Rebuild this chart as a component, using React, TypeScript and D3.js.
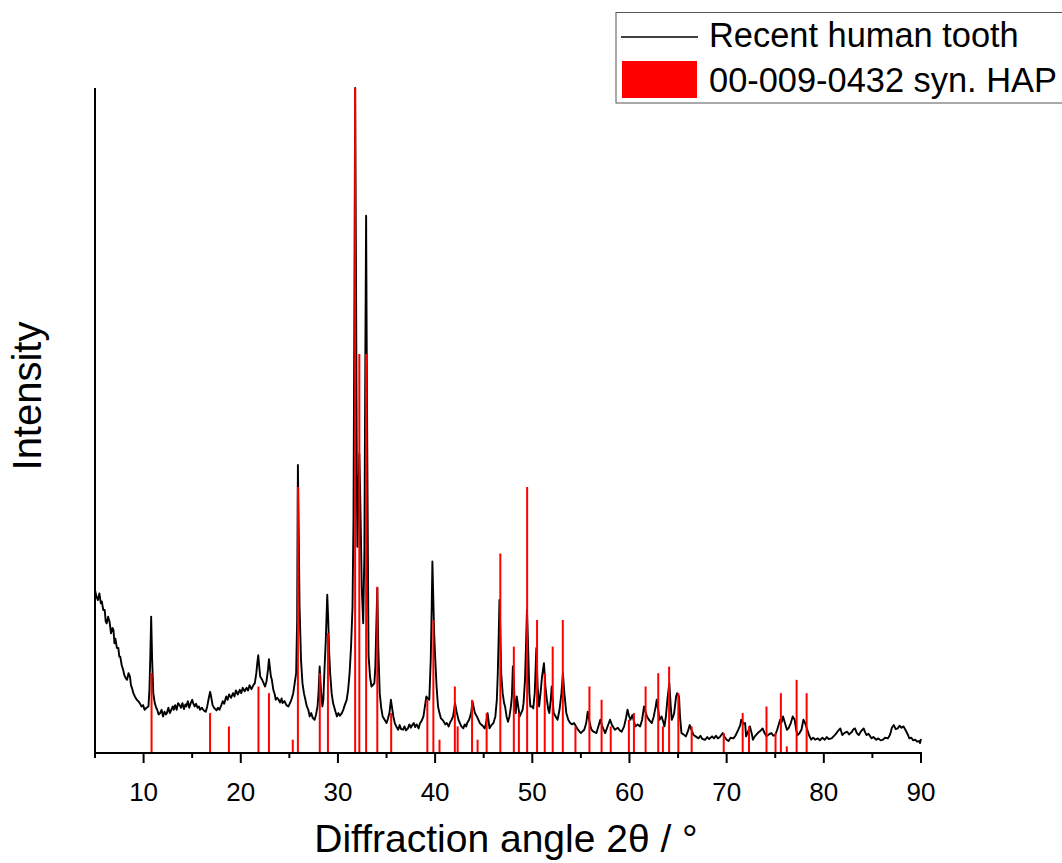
import React from "react";
import * as d3 from "d3";

// ---- Data ----
// Recent human tooth XRD pattern: 2θ (°) and relative intensity (0–100 of the plot height)
const toothAngle: number[] = [
  5.0, 5.15, 5.3, 5.45, 5.6, 5.7, 5.85, 6.0, 6.1, 6.2, 6.35, 6.5, 6.65, 6.8, 6.9, 7.0, 7.1, 7.25, 7.4, 7.5,
  7.6, 7.75, 7.9, 8.0, 8.15, 8.3, 8.45, 8.6, 8.7, 8.8, 8.95, 9.1, 9.3, 9.45, 9.6, 9.8, 9.95, 10.1, 10.3, 10.5,
  10.6, 10.7, 10.78, 10.88, 11.0, 11.15, 11.3, 11.4, 11.55, 11.7, 11.85, 12.0, 12.15, 12.3, 12.4, 12.55, 12.7, 12.85, 13.0, 13.1,
  13.25, 13.4, 13.55, 13.7, 13.85, 14.0, 14.15, 14.3, 14.4, 14.55, 14.7, 14.85, 15.0, 15.1, 15.25, 15.4, 15.55, 15.7, 15.8, 16.0,
  16.2, 16.4, 16.55, 16.7, 16.85, 16.95, 17.1, 17.3, 17.5, 17.65, 17.8, 18.0, 18.15, 18.3, 18.5, 18.65, 18.8, 19.0, 19.2, 19.35,
  19.5, 19.7, 19.9, 20.05, 20.2, 20.4, 20.6, 20.75, 20.9, 21.1, 21.3, 21.45, 21.6, 21.7, 21.8, 21.9, 22.0, 22.2, 22.35, 22.5,
  22.65, 22.8, 22.9, 23.0, 23.1, 23.2, 23.35, 23.5, 23.6, 23.75, 23.9, 24.05, 24.2, 24.3, 24.5, 24.7, 24.9, 25.1, 25.25, 25.4,
  25.55, 25.7, 25.8, 25.88, 25.95, 26.05, 26.2, 26.35, 26.5, 26.65, 26.8, 26.95, 27.1, 27.25, 27.4, 27.6, 27.75, 27.9, 28.0, 28.12,
  28.25, 28.4, 28.5, 28.6, 28.75, 28.9, 29.0, 29.1, 29.2, 29.35, 29.5, 29.6, 29.75, 29.9, 30.05, 30.2, 30.4, 30.55, 30.7, 30.9,
  31.05, 31.2, 31.35, 31.5, 31.6, 31.7, 31.77, 31.85, 31.95, 32.0, 32.1, 32.2, 32.3, 32.45, 32.6, 32.72, 32.82, 32.9, 32.98, 33.08,
  33.15, 33.3, 33.45, 33.6, 33.75, 33.85, 33.95, 34.05, 34.15, 34.3, 34.45, 34.6, 34.8, 35.0, 35.15, 35.3, 35.45, 35.55, 35.7, 35.85,
  36.0, 36.2, 36.35, 36.5, 36.7, 36.85, 37.0, 37.2, 37.35, 37.5, 37.65, 37.8, 37.95, 38.1, 38.3, 38.45, 38.6, 38.8, 38.95, 39.1,
  39.25, 39.4, 39.55, 39.65, 39.72, 39.8, 39.9, 40.0, 40.15, 40.3, 40.45, 40.6, 40.75, 40.9, 41.05, 41.2, 41.4, 41.55, 41.7, 41.85,
  41.95, 42.05, 42.2, 42.4, 42.55, 42.7, 42.9, 43.05, 43.2, 43.3, 43.5, 43.7, 43.85, 43.95, 44.1, 44.3, 44.45, 44.6, 44.8, 44.95,
  45.1, 45.25, 45.4, 45.5, 45.6, 45.8, 46.0, 46.2, 46.35, 46.45, 46.55, 46.62, 46.7, 46.8, 46.95, 47.1, 47.2, 47.35, 47.5, 47.65,
  47.8, 47.9, 48.0, 48.1, 48.2, 48.3, 48.4, 48.55, 48.7, 48.85, 49.0, 49.1, 49.25, 49.35, 49.45, 49.55, 49.7, 49.8, 50.0, 50.1,
  50.25, 50.35, 50.42, 50.55, 50.7, 50.85, 51.0, 51.2, 51.35, 51.5, 51.65, 51.75, 51.9, 52.0, 52.1, 52.2, 52.4, 52.6, 52.8, 53.0,
  53.15, 53.3, 53.5, 53.7, 53.9, 54.1, 54.3, 54.5, 54.7, 55.0, 55.2, 55.35, 55.55, 55.7, 55.85, 56.0, 56.1, 56.3, 56.6, 56.8,
  57.0, 57.2, 57.5, 57.7, 58.0, 58.2, 58.5, 58.8, 59.0, 59.2, 59.45, 59.65, 59.8, 59.95, 60.1, 60.3, 60.45, 60.6, 60.85, 61.1,
  61.3, 61.5, 61.65, 61.8, 62.0, 62.3, 62.5, 62.7, 62.8, 62.95, 63.1, 63.3, 63.45, 63.6, 63.75, 63.9, 64.1, 64.25, 64.35, 64.5,
  64.6, 64.8, 64.9, 65.1, 65.2, 65.35, 65.55, 65.8, 66.0, 66.2, 66.4, 66.6, 66.8, 67.1, 67.3, 67.5, 67.8, 68.0, 68.2, 68.5,
  68.7, 68.9, 69.1, 69.3, 69.6, 69.8, 70.0, 70.2, 70.4, 70.7, 70.9, 71.2, 71.4, 71.5, 71.7, 71.9, 72.0, 72.2, 72.4, 72.6,
  72.7, 72.9, 73.2, 73.45, 73.7, 73.9, 74.1, 74.35, 74.6, 74.8, 75.0, 75.2, 75.5, 75.65, 75.8, 76.0, 76.2, 76.4, 76.6, 76.8,
  77.0, 77.15, 77.3, 77.5, 77.7, 77.9, 78.05, 78.3, 78.5, 78.7, 78.9, 79.1, 79.4, 79.6, 79.85, 80.1, 80.3, 80.5, 80.8, 81.0,
  81.2, 81.4, 81.7, 81.9, 82.1, 82.4, 82.6, 82.9, 83.0, 83.2, 83.4, 83.6, 83.8, 84.1, 84.25, 84.4, 84.6, 84.9, 85.1, 85.4,
  85.6, 85.85, 86.1, 86.3, 86.6, 86.8, 86.9, 87.0, 87.2, 87.4, 87.6, 87.8, 88.0, 88.2, 88.35, 88.5, 88.7, 88.8, 89.0, 89.2,
  89.4, 89.6, 89.8, 89.9, 90.0,
];
const toothIntensity: number[] = [
  24.5, 23.5, 23, 24, 22.5, 22.8, 21.5, 21.5, 19.8, 19.5, 20.5, 19.7, 18.0, 18.8, 18.5, 16.5, 17.2, 15.8, 15.8, 14.5,
  14.5, 13.2, 12.5, 11.8, 11.3, 11, 12.0, 11.5, 10.2, 9.8, 9.0, 8.5, 8, 7.8, 7.5, 7.0, 7.2, 6.5, 6.8, 7,
  9.5, 15, 20.5, 14, 9, 7.5, 6.8, 6.5, 5.8, 6, 6.5, 5.5, 6.2, 5.8, 6, 6.8, 6.0, 6.5, 7.0, 6.5,
  7.2, 6.5, 7.5, 7.2, 6.8, 7.5, 6.6, 7.3, 7, 7.8, 6.8, 7.5, 8.0, 7.5, 7.0, 7.4, 6.8, 7.0, 6.5, 6.8,
  6.4, 6.2, 7.0, 8.2, 9.2, 8.5, 7.2, 6.7, 6.4, 6.8, 6.5, 7.2, 7.8, 7.4, 8.5, 8.0, 8.8, 8.3, 9, 8.5,
  9.4, 8.8, 9.5, 9.0, 9.8, 9.3, 9.8, 9.4, 10.2, 9.6, 10.2, 10.5, 12, 13.5, 14.7, 13, 11.5, 11, 10.5, 10,
  10.8, 12.5, 14.1, 12.8, 11.5, 11, 9.5, 8.8, 8, 8.3, 8, 7.6, 8.2, 7.5, 7.8, 7.2, 7, 7.6, 8.2, 9,
  10.5, 12, 20, 43.3, 35, 22, 14, 10.5, 9, 8, 7, 6.5, 5.5, 6.0, 5.3, 5, 5.8, 7, 9, 13,
  9.5, 7, 8, 12, 17, 23.8, 20, 15, 12, 9, 7.5, 7, 6.2, 5.5, 6.0, 5.6, 6, 6.5, 7.2, 8,
  9.5, 12, 16, 22, 35, 70, 100, 75, 40, 31, 38, 45, 38, 25, 19.5, 30, 60, 80.8, 55, 30,
  14.7, 11.5, 10, 10.2, 10.5, 13, 19, 24.8, 16, 9, 6.8, 5.5, 5, 4.5, 5.2, 6, 8, 7, 5.5, 4.5,
  4, 3.5, 4.2, 3.6, 3.5, 4.0, 3.4, 3.7, 4.3, 3.8, 4.2, 4.5, 3.9, 4.3, 3.7, 4.5, 4.8, 5.5, 7, 8.5,
  8.2, 8, 14, 22, 28.8, 24, 18, 14.5, 10, 7, 6, 5.2, 5, 4.7, 4.3, 4.5, 4, 4.6, 5, 5.5,
  6.5, 7.5, 6.3, 5, 4.5, 4.0, 3.7, 4.3, 4.0, 4.5, 5.0, 6, 7.7, 7, 6, 5.5, 5, 4.5, 4.2, 4.0,
  3.7, 4.5, 6, 4.8, 3.7, 4.2, 4.5, 5.5, 8, 12, 18, 23, 19, 12, 9, 7.5, 7, 5.5, 4.7, 5.5,
  7, 8.5, 13, 11, 6.5, 6, 8.5, 7, 5.5, 6, 6.5, 7.5, 11, 16, 21.5, 17, 9, 7, 7, 6.7,
  9, 13, 15.8, 10, 7, 9, 11.5, 13.5, 10, 8, 6.5, 6, 8, 10, 8, 6, 5.5, 5, 6.5, 9,
  12, 9, 6, 5, 4.5, 4.3, 4.5, 4, 3.5, 3, 3.3, 3.5, 4.5, 6.2, 5, 4, 3.5, 3.2, 3, 4,
  5, 4, 3, 3.8, 5, 4.2, 3.5, 3.8, 3.4, 3.2, 4, 5.3, 6.5, 5.6, 5, 5.7, 4.8, 4, 4.3, 4,
  5, 7, 6.2, 5.5, 5, 4.5, 5.5, 7, 8, 6.5, 5, 5.5, 4.8, 4, 5.5, 8, 10.5, 7, 5, 5.5,
  6, 8.5, 9, 8.5, 5.5, 3, 2.8, 2.5, 3.2, 4.2, 3.4, 2.7, 2.5, 2.2, 2.6, 2.1, 2, 2.4, 2.1, 2.5,
  2.2, 2.6, 2.2, 2.4, 3, 2.4, 2, 1.8, 2.3, 2.2, 2.6, 3.5, 4.2, 5, 4.4, 4.5, 2.5, 3.2, 4, 2.8,
  2, 2.5, 3, 3.3, 3.7, 3.0, 2.5, 2.8, 3, 2.6, 2.7, 3.5, 5, 4.6, 5.5, 4.5, 3.5, 3.8, 4.5, 5.5,
  5, 3.5, 2.7, 3.0, 3.5, 5, 4.6, 3.5, 2.6, 2, 2.3, 2.0, 2.2, 1.9, 2.3, 2, 2.4, 2.1, 2.2, 2.5,
  2.8, 3.2, 3.7, 2.7, 3.0, 3.2, 2.8, 3.2, 3.5, 3.7, 3.0, 2.7, 3.2, 3.7, 3.1, 2.7, 2.9, 2.2, 2.4, 2,
  2.2, 1.9, 2, 2.3, 2.2, 2.7, 3.2, 3.8, 4.2, 3.6, 3.7, 4.1, 3.8, 4, 3.6, 3.2, 2.6, 2.2, 2.3, 1.9,
  2, 1.7, 1.8, 1.5, 2.1,
];

// Reference pattern 00-009-0432 synthetic hydroxyapatite: 2θ (°) and relative intensity
const hapAngle: number[] = [
  10.82, 16.84, 18.78, 21.82, 22.9, 25.35, 25.88, 28.13, 28.97, 31.77, 32.2, 32.9, 34.05, 35.48, 39.2, 39.82,
  40.45, 42.03, 42.32, 43.8, 44.37, 45.3, 46.71, 48.1, 48.62, 49.47, 50.49, 51.28, 52.1, 53.14, 54.44, 55.88,
  57.13, 58.07, 59.94, 60.46, 61.66, 62.96, 63.44, 64.08, 65.03, 66.4, 69.7, 71.65, 72.3, 74.1, 75.03, 75.58,
  76.19, 77.2, 78.23,
];
const hapIntensity: number[] = [
  12, 6, 4, 10, 9, 2, 40, 12, 18, 100, 60, 60, 25, 6, 8, 20,
  2, 10, 4, 8, 2, 6, 30, 16, 6, 40, 20, 12, 16, 20, 4, 10,
  8, 4, 5, 6, 10, 12, 4, 13, 9, 4, 3, 6, 4, 7, 3, 9,
  1, 11, 9,
];

const majorTicks: number[] = [10, 20, 30, 40, 50, 60, 70, 80, 90];
const minorTicks: number[] = [5, 15, 25, 35, 45, 55, 65, 75, 85];

const seriesNames: string[] = ["Recent human tooth", "00-009-0432 syn. HAP"];
const xTitle = "Diffraction angle 2θ / °";
const yTitle = "Intensity";

const FONT = "'Liberation Sans', Arial, Helvetica, sans-serif";

export default function App() {
  const width = 1062;
  const height = 863;
  const x = d3.scaleLinear().domain([5, 90]).range([95, 921]);
  const y = d3.scaleLinear().domain([0, 100]).range([753, 88]);

  const pts: [number, number][] = toothAngle.map((a, i) => [a, toothIntensity[i]]);
  const line = d3
    .line<[number, number]>()
    .x((d) => x(d[0]))
    .y((d) => y(d[1]));

  return (
    <svg
      width={width}
      height={height}
      style={{ position: "absolute", left: 0, top: 0, background: "#fff" }}
      fontFamily={FONT}
    >
      <rect x={0} y={0} width={width} height={height} fill="#fff" />
      {/* tooth pattern */}
      <path d={line(pts) || ""} fill="none" stroke="#000" strokeWidth={1.9} strokeLinejoin="round" />
      {/* reference sticks */}
      {hapAngle.map((a, i) => (
        <line
          key={i}
          x1={x(a)}
          x2={x(a)}
          y1={y(0)}
          y2={y(hapIntensity[i])}
          stroke="#ff0000"
          strokeWidth={2}
        />
      ))}
      {/* axes */}
      <line x1={x(5)} x2={x(5)} y1={y(100)} y2={y(0) + 1} stroke="#000" strokeWidth={2} />
      <line x1={x(5) - 1} x2={x(90) + 1} y1={y(0)} y2={y(0)} stroke="#000" strokeWidth={2} />
      {majorTicks.map((t) => (
        <line key={"M" + t} x1={x(t)} x2={x(t)} y1={y(0)} y2={y(0) + 10} stroke="#000" strokeWidth={2} />
      ))}
      {minorTicks.map((t) => (
        <line key={"m" + t} x1={x(t)} x2={x(t)} y1={y(0)} y2={y(0) + 5} stroke="#000" strokeWidth={2} />
      ))}
      {majorTicks.map((t) => (
        <text key={"L" + t} x={x(t)} y={801} textAnchor="middle" fontSize={26} fill="#000">
          {t}
        </text>
      ))}
      <text x={506} y={852} textAnchor="middle" fontSize={39} fill="#000">
        {xTitle}
      </text>
      <text
        transform={`translate(41, 396) rotate(-90)`}
        textAnchor="middle"
        fontSize={40}
        fill="#000"
      >
        {yTitle}
      </text>
      {/* legend */}
      <rect x={616} y={12.5} width={460} height={90.5} fill="#fff" stroke="#555" strokeWidth={1} />
      <line x1={621} x2={698} y1={37} y2={37} stroke="#000" strokeWidth={1.6} />
      <text x={709} y={47} fontSize={34.4} fill="#000">
        {seriesNames[0]}
      </text>
      <rect x={622} y={61} width={75} height={37} fill="#ff0000" />
      <text x={709} y={92} fontSize={34.4} fill="#000">
        {seriesNames[1]}
      </text>
    </svg>
  );
}
